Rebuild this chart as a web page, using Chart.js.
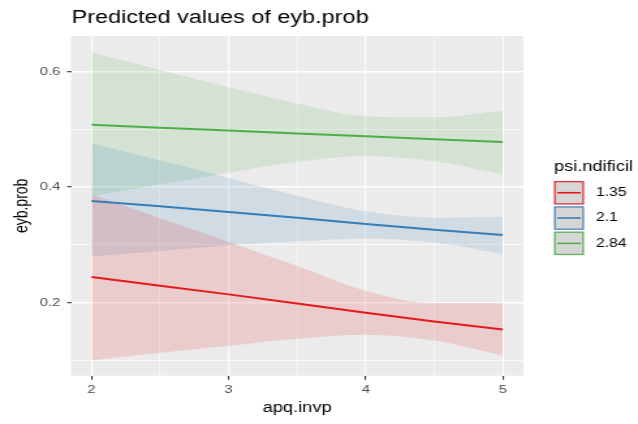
<!DOCTYPE html>
<html>
<head>
<meta charset="utf-8">
<script src="https://cdn.jsdelivr.net/npm/chart.js@4"></script>
<style>
  html, body { margin: 0; padding: 0; background: #ffffff; }
  /* the reference is stretched sideways, so draw narrow and stretch with css */
  #chart { display: block; width: 638px; height: 424px; }
</style>
</head>
<body>
<canvas id="chart" width="490" height="424" style="width:638px;height:424px;display:block"></canvas>
<script>
// Дані графіка
const xValues = [2, 2.5, 3, 3.5, 4, 4.5, 5];
const groupLabels = ['1.35', '2.1', '2.84'];

const pred135 = [0.244, 0.229, 0.214, 0.198, 0.182, 0.167, 0.153];
const low135  = [0.100, 0.113, 0.125, 0.137, 0.144, 0.134, 0.108];
const high135 = [0.387, 0.346, 0.305, 0.263, 0.220, 0.199, 0.199];

const pred21 = [0.376, 0.367, 0.357, 0.347, 0.336, 0.326, 0.317];
const low21  = [0.280, 0.289, 0.299, 0.306, 0.311, 0.304, 0.284];
const high21 = [0.476, 0.446, 0.416, 0.385, 0.358, 0.347, 0.348];

const pred284 = [0.508, 0.503, 0.498, 0.493, 0.488, 0.483, 0.478];
const low284  = [0.384, 0.405, 0.425, 0.444, 0.454, 0.445, 0.422];
const high284 = [0.634, 0.603, 0.573, 0.545, 0.523, 0.521, 0.533];

const xTicks = [2, 2.5, 3, 3.5, 4, 4.5, 5];
const yTicks = [0.1, 0.2, 0.3, 0.4, 0.5, 0.6];

const groupColors = ['228, 26, 28', '55, 126, 184', '77, 175, 74'];

const FONT = "'Liberation Sans', Arial, sans-serif";

function toPoints(values) {
    return xValues.map((x, i) => ({ x: x, y: values[i] }));
}

// Набори даних: нижня межа, верхня межа (заливка до нижньої), лінія
const series = [
    { pred: pred135, low: low135, high: high135 },
    { pred: pred21, low: low21, high: high21 },
    { pred: pred284, low: low284, high: high284 }
];

const datasets = [];
series.forEach((s, i) => {
    const rgb = groupColors[i];
    datasets.push({
        label: groupLabels[i] + ' low',
        data: toPoints(s.low),
        borderWidth: 0,
        pointRadius: 0,
        fill: false,
        cubicInterpolationMode: 'monotone',
        order: 2
    });
    datasets.push({
        label: groupLabels[i] + ' high',
        data: toPoints(s.high),
        borderWidth: 0,
        pointRadius: 0,
        fill: '-1',
        backgroundColor: 'rgba(' + rgb + ', 0.15)',
        cubicInterpolationMode: 'monotone',
        order: 2
    });
    datasets.push({
        label: groupLabels[i],
        data: toPoints(s.pred),
        borderColor: 'rgb(' + rgb + ')',
        borderWidth: 2,
        pointRadius: 0,
        fill: false,
        order: 1
    });
});

const isMajorX = v => Math.abs(v - Math.round(v)) < 1e-6;
const isMajorY = v => Math.round(v * 10) % 2 === 0;

// Сіра панель як у ggplot
const panelPlugin = {
    id: 'panel',
    beforeDraw(chart) {
        const a = chart.chartArea;
        const ctx = chart.ctx;
        ctx.save();
        ctx.fillStyle = '#EBEBEB';
        ctx.fillRect(a.left, a.top, a.right - a.left, a.bottom - a.top);
        ctx.restore();
    }
};

// Заголовок, підписи осей і легенда
const textPlugin = {
    id: 'texts',
    afterDraw(chart) {
        const ctx = chart.ctx;
        const a = chart.chartArea;
        ctx.save();
        ctx.fillStyle = '#000000';

        ctx.font = '18px ' + FONT;
        ctx.textAlign = 'left';
        ctx.textBaseline = 'alphabetic';
        ctx.fillText('Predicted values of eyb.prob', 55, 23);

        ctx.font = '14px ' + FONT;
        ctx.textAlign = 'center';
        ctx.textBaseline = 'middle';
        ctx.fillText('apq.invp', (a.left + a.right) / 2, 408);

        ctx.save();
        ctx.translate(17, (a.top + a.bottom) / 2);
        ctx.rotate(-Math.PI / 2);
        ctx.fillText('eyb.prob', 0, 0);
        ctx.restore();

        // легенда
        ctx.textAlign = 'left';
        ctx.textBaseline = 'alphabetic';
        ctx.fillText('psi.ndificil', 425.5, 170.5);

        const keyX = 425.5, keyW = 23, keyH = 23.5;
        const keyTops = [181, 206.3, 231.6];
        ctx.font = '12px ' + FONT;
        groupLabels.forEach((label, i) => {
            const top = keyTops[i];
            ctx.fillStyle = '#D6D6D6';
            ctx.fillRect(keyX, top, keyW, keyH);
            ctx.strokeStyle = 'rgb(' + groupColors[i] + ')';
            ctx.globalAlpha = 0.85;
            ctx.lineWidth = 1.3;
            ctx.strokeRect(keyX + 0.65, top + 0.65, keyW - 1.3, keyH - 1.3);
            ctx.globalAlpha = 1;
            ctx.lineWidth = 1.6;
            ctx.beginPath();
            ctx.moveTo(keyX + 2.5, top + keyH / 2);
            ctx.lineTo(keyX + keyW - 2.5, top + keyH / 2);
            ctx.stroke();
            ctx.fillStyle = '#000000';
            ctx.textBaseline = 'middle';
            ctx.fillText(label, 457.8, top + keyH / 2);
        });
        ctx.restore();
    }
};

new Chart(document.getElementById('chart'), {
    type: 'line',
    data: { datasets: datasets },
    plugins: [panelPlugin, textPlugin],
    options: {
        responsive: false,
        devicePixelRatio: 1,
        animation: false,
        layout: { padding: { left: 0, top: 36, right: 88.1, bottom: 0 } },
        plugins: {
            legend: { display: false },
            tooltip: { enabled: false },
            title: { display: false }
        },
        scales: {
            x: {
                type: 'linear',
                min: 1.85,
                max: 5.15,
                afterBuildTicks: scale => { scale.ticks = xTicks.map(v => ({ value: v })); },
                afterFit: scale => { scale.height = 48.3; },
                border: { display: false },
                grid: {
                    color: '#FFFFFF',
                    lineWidth: c => (c.tick && isMajorX(c.tick.value)) ? 1.1 : 0.55,
                    tickColor: c => (c.tick && isMajorX(c.tick.value)) ? '#333333' : 'rgba(0,0,0,0)',
                    tickWidth: 1.1,
                    tickLength: 4
                },
                ticks: {
                    autoSkip: false,
                    maxRotation: 0,
                    padding: 3,
                    color: '#4D4D4D',
                    font: { family: FONT, size: 11.5 },
                    callback: v => isMajorX(v) ? String(v) : ''
                }
            },
            y: {
                type: 'linear',
                min: 0.073,
                max: 0.662,
                afterBuildTicks: scale => { scale.ticks = yTicks.map(v => ({ value: v })); },
                afterFit: scale => { scale.width = 54.5; },
                border: { display: false },
                grid: {
                    color: '#FFFFFF',
                    lineWidth: c => (c.tick && isMajorY(c.tick.value)) ? 1.4 : 0.7,
                    tickColor: c => (c.tick && isMajorY(c.tick.value)) ? '#333333' : 'rgba(0,0,0,0)',
                    tickWidth: 1.1,
                    tickLength: 3
                },
                ticks: {
                    autoSkip: false,
                    padding: 5,
                    color: '#4D4D4D',
                    font: { family: FONT, size: 11.5 },
                    callback: v => isMajorY(v) ? v.toFixed(1) : ''
                }
            }
        }
    }
});
</script>
</body>
</html>
